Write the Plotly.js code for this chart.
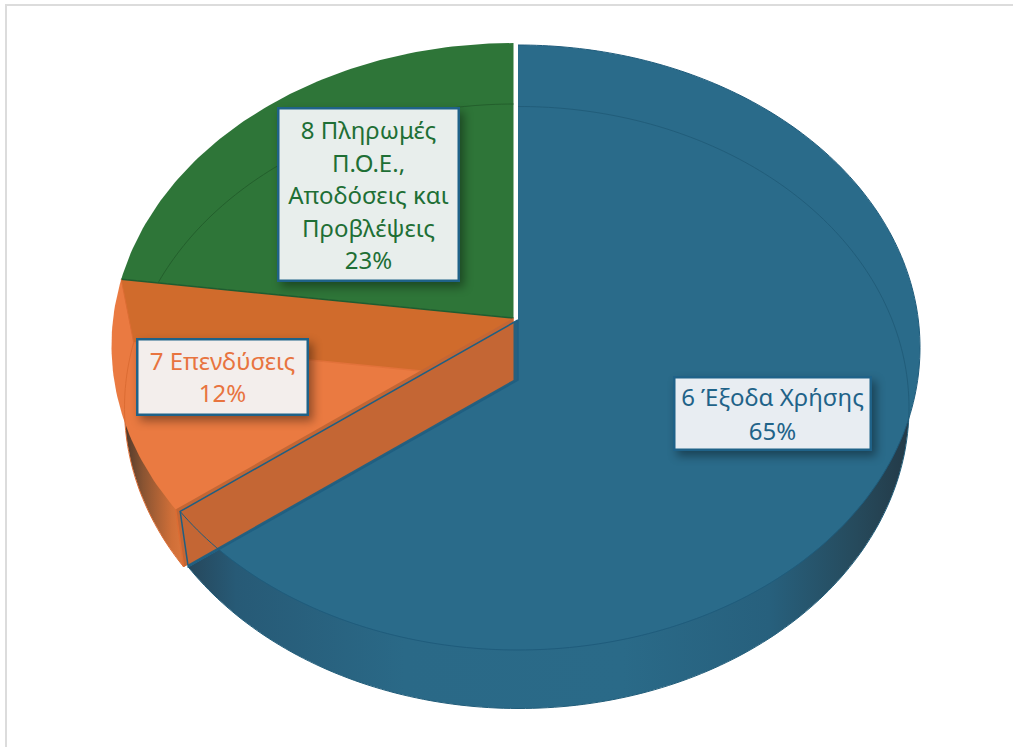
<!DOCTYPE html>
<html>
<head>
<meta charset="utf-8">
<script src="https://cdn.plot.ly/plotly-3.0.1.min.js"></script>
<style>
html,body{margin:0;padding:0;background:#fff;overflow:hidden}
#chart{width:1013px;height:747px}
.annotation rect.bg{filter:drop-shadow(4px 5px 5px rgba(0,0,0,.38))}
</style>
</head>
<body>
<div id="chart"></div>
<script>
// Data
const categories = ['6 Έξοδα Χρήσης', '7 Επενδύσεις', '8 Πληρωμές<br>Π.Ο.Ε.,<br>Αποδόσεις και<br>Προβλέψεις'];
const shares = [65, 12, 23];
const sliceColors = ['#2a6b8a', '#ea7a41', '#2e7538'];
const labelColors = ['#1f6389', '#e8743f', '#1e6f35'];
const labelFills = ['#e8edf2', '#f3eeec', '#e8eeec'];
const labelBoxes = [[772, 413, 194, 70], [222, 376.5, 168, 73], [368.5, 194, 178, 170]];
const labelLinePitch = [34, 32, 32.5];

// Projection of the tilted disc, in page pixels
const faceTop = {cx: 518, cy: 347.5, rx: 402, ry: 302.5, ax: 518, ay: 320};
const faceLow = {cx: 519, cy: 407.5, rx: 390, ry: 301, ax: 518, ay: 380};
const tilt = 0.78;
const labelFontSize = 24;
const shift = (g, dx, dy) => ({cx: g.cx + dx, cy: g.cy + dy, rx: g.rx, ry: g.ry, ax: g.ax + dx, ay: g.ay + dy});

function rim(g, deg) {
  const th = deg * Math.PI / 180;
  const dx = Math.sin(th), dy = -Math.cos(th) * tilt;
  const ox = (g.ax - g.cx) / g.rx, oy = (g.ay - g.cy) / g.ry;
  const px = dx / g.rx, py = dy / g.ry;
  const A = px * px + py * py, B = 2 * (ox * px + oy * py), C = ox * ox + oy * oy - 1;
  const t = (-B + Math.sqrt(B * B - 4 * A * C)) / (2 * A);
  return [g.ax + t * dx, g.ay + t * dy];
}
function arc(g, from, to) {
  const pts = [];
  const n = Math.max(2, Math.ceil(Math.abs(to - from)));
  for (let i = 0; i <= n; i++) pts.push(rim(g, from + (to - from) * i / n));
  return pts;
}
const apex = g => [g.ax, g.ay];
function path(pts, opts) {
  return Object.assign({
    x: pts.map(p => p[0]), y: pts.map(p => p[1]),
    type: 'scatter', mode: 'lines', hoverinfo: 'skip', showlegend: false
  }, opts);
}
const solid = (pts, color) => path(pts.concat([pts[0]]), {fill: 'toself', fillcolor: color, line: {width: 0, color: color}});
const stroke = (pts, color, w) => path(pts, {line: {color: color, width: w, simplify: false}});
const graded = (pts, stops, start, stop) => path(pts.concat([pts[0]]), {
  fill: 'toself', line: {width: 0},
  fillgradient: {type: 'horizontal', colorscale: stops, start: start, stop: stop}
});

// Slice limits in degrees, clockwise from twelve o'clock
const total = shares.reduce((a, b) => a + b, 0);
const a1 = shares[0] / total * 360;
const a2 = (shares[0] + shares[1]) / total * 360;

const topB = faceTop, lowB = faceLow;
const topO = shift(faceTop, -4.5, -2), lowO = shift(faceLow, -4.5, 0);
const topG = shift(faceTop, -4.5, -2), lowG = shift(faceLow, -4.5, -2.5);

const traces = [];
// green slice
traces.push(solid([apex(topG)].concat(arc(topG, a2, 360)), sliceColors[2]));
traces.push(stroke(arc(lowG, a2, 360), '#235f2c', 1));
// orange slice: side wall, top face, far wall seen through
traces.push(graded([apex(lowO)].concat(arc(lowO, a1, a2)),
  [[0, '#3b2f28'], [0.35, '#8a5432'], [0.75, '#d06f38'], [1, '#e07a40']], 118, 190));
traces.push(solid([apex(topO)].concat(arc(topO, a1, a2)), sliceColors[1]));
traces.push(stroke(arc(lowO, a1, a2), '#dc6c33', 1));
traces.push(solid([apex(topO), rim(topO, a2), rim(lowO, a2), apex(lowO)], '#d06b2c'));
traces.push(stroke([rim(lowO, a2), apex(lowO)], '#e2723a', 1.5));
traces.push(stroke([apex(topG), rim(topG, a2)], '#1f5c30', 1.5));
traces.push(stroke([rim(topO, a2), rim(lowO, a2)], '#dc6c33', 1));
// blue slice: side wall and top face
traces.push(graded([apex(lowB)].concat(arc(lowB, 0, a1)),
  [[0, '#26465a'], [0.07, '#275a76'], [0.3, '#2a6987'], [0.6, '#2a6a88'], [0.8, '#27607d'], [0.92, '#264a5c'], [1, '#233845']], 185, 915));
traces.push(solid([apex(topB)].concat(arc(topB, 0, a1)), sliceColors[0]));
traces.push(stroke(arc(lowB, 0, a1), '#215d7a', 1));
// cut face of the blue slice, then the near wall of the orange slice in front of it
traces.push(solid([apex(topB), apex(lowB), rim(lowB, a1), rim(topB, a1)], '#27607d'));
traces.push(solid([apex(topO), apex(lowO), rim(lowO, a1), rim(topO, a1)], '#c46634'));
traces.push(stroke([rim(topO, a1), rim(lowO, a1)], '#dc6c33', 1.5));
// blue outlines
traces.push(stroke(arc(topB, 0, a1), '#1f5c7c', 1));
traces.push(stroke([apex(topB), rim(topB, a1), rim(lowB, a1), apex(lowB), apex(topB)], '#1f5f82', 1.5));

const annotations = categories.map((c, i) => ({
  xref: 'x', yref: 'y', x: labelBoxes[i][0], y: labelBoxes[i][1],
  xanchor: 'center', yanchor: 'middle', showarrow: false, align: 'center', valign: 'middle',
  text: c + '<br>' + shares[i] + '%',
  width: labelBoxes[i][2], height: labelBoxes[i][3],
  bgcolor: labelFills[i], bordercolor: '#1f6288', borderwidth: 2.5, borderpad: 0,
  font: {family: '"Noto Sans", sans-serif', size: labelFontSize, color: labelColors[i]}
}));

const layout = {
  width: 1013, height: 747, margin: {l: 0, r: 0, t: 0, b: 0, pad: 0},
  paper_bgcolor: '#ffffff', plot_bgcolor: '#ffffff', showlegend: false,
  xaxis: {range: [0, 1013], visible: false, fixedrange: true},
  yaxis: {range: [747, 0], visible: false, fixedrange: true},
  shapes: [{type: 'rect', xref: 'x', yref: 'y', x0: 6, y0: 5, x1: 1030, y1: 770, line: {color: '#dcdcdc', width: 2}, layer: 'below'}],
  annotations: annotations
};
Plotly.newPlot('chart', traces, layout, {displayModeBar: false, staticPlot: true}).then(() => {
  // Loosen the label line spacing to the pitch measured in the picture
  document.querySelectorAll('.annotation').forEach(ann => {
    const idx = +ann.getAttribute('data-index');
    const pitch = labelLinePitch[idx];
    const lines = ann.querySelectorAll('tspan.line');
    const up = (lines.length - 1) * (pitch - labelFontSize * 1.3) / 2;
    lines.forEach((t, i) => {
      t.setAttribute('dy', (i * pitch) + 'px');
      t.setAttribute('y', parseFloat(t.getAttribute('y')) - up);
    });
  });
});
</script>
</body>
</html>
